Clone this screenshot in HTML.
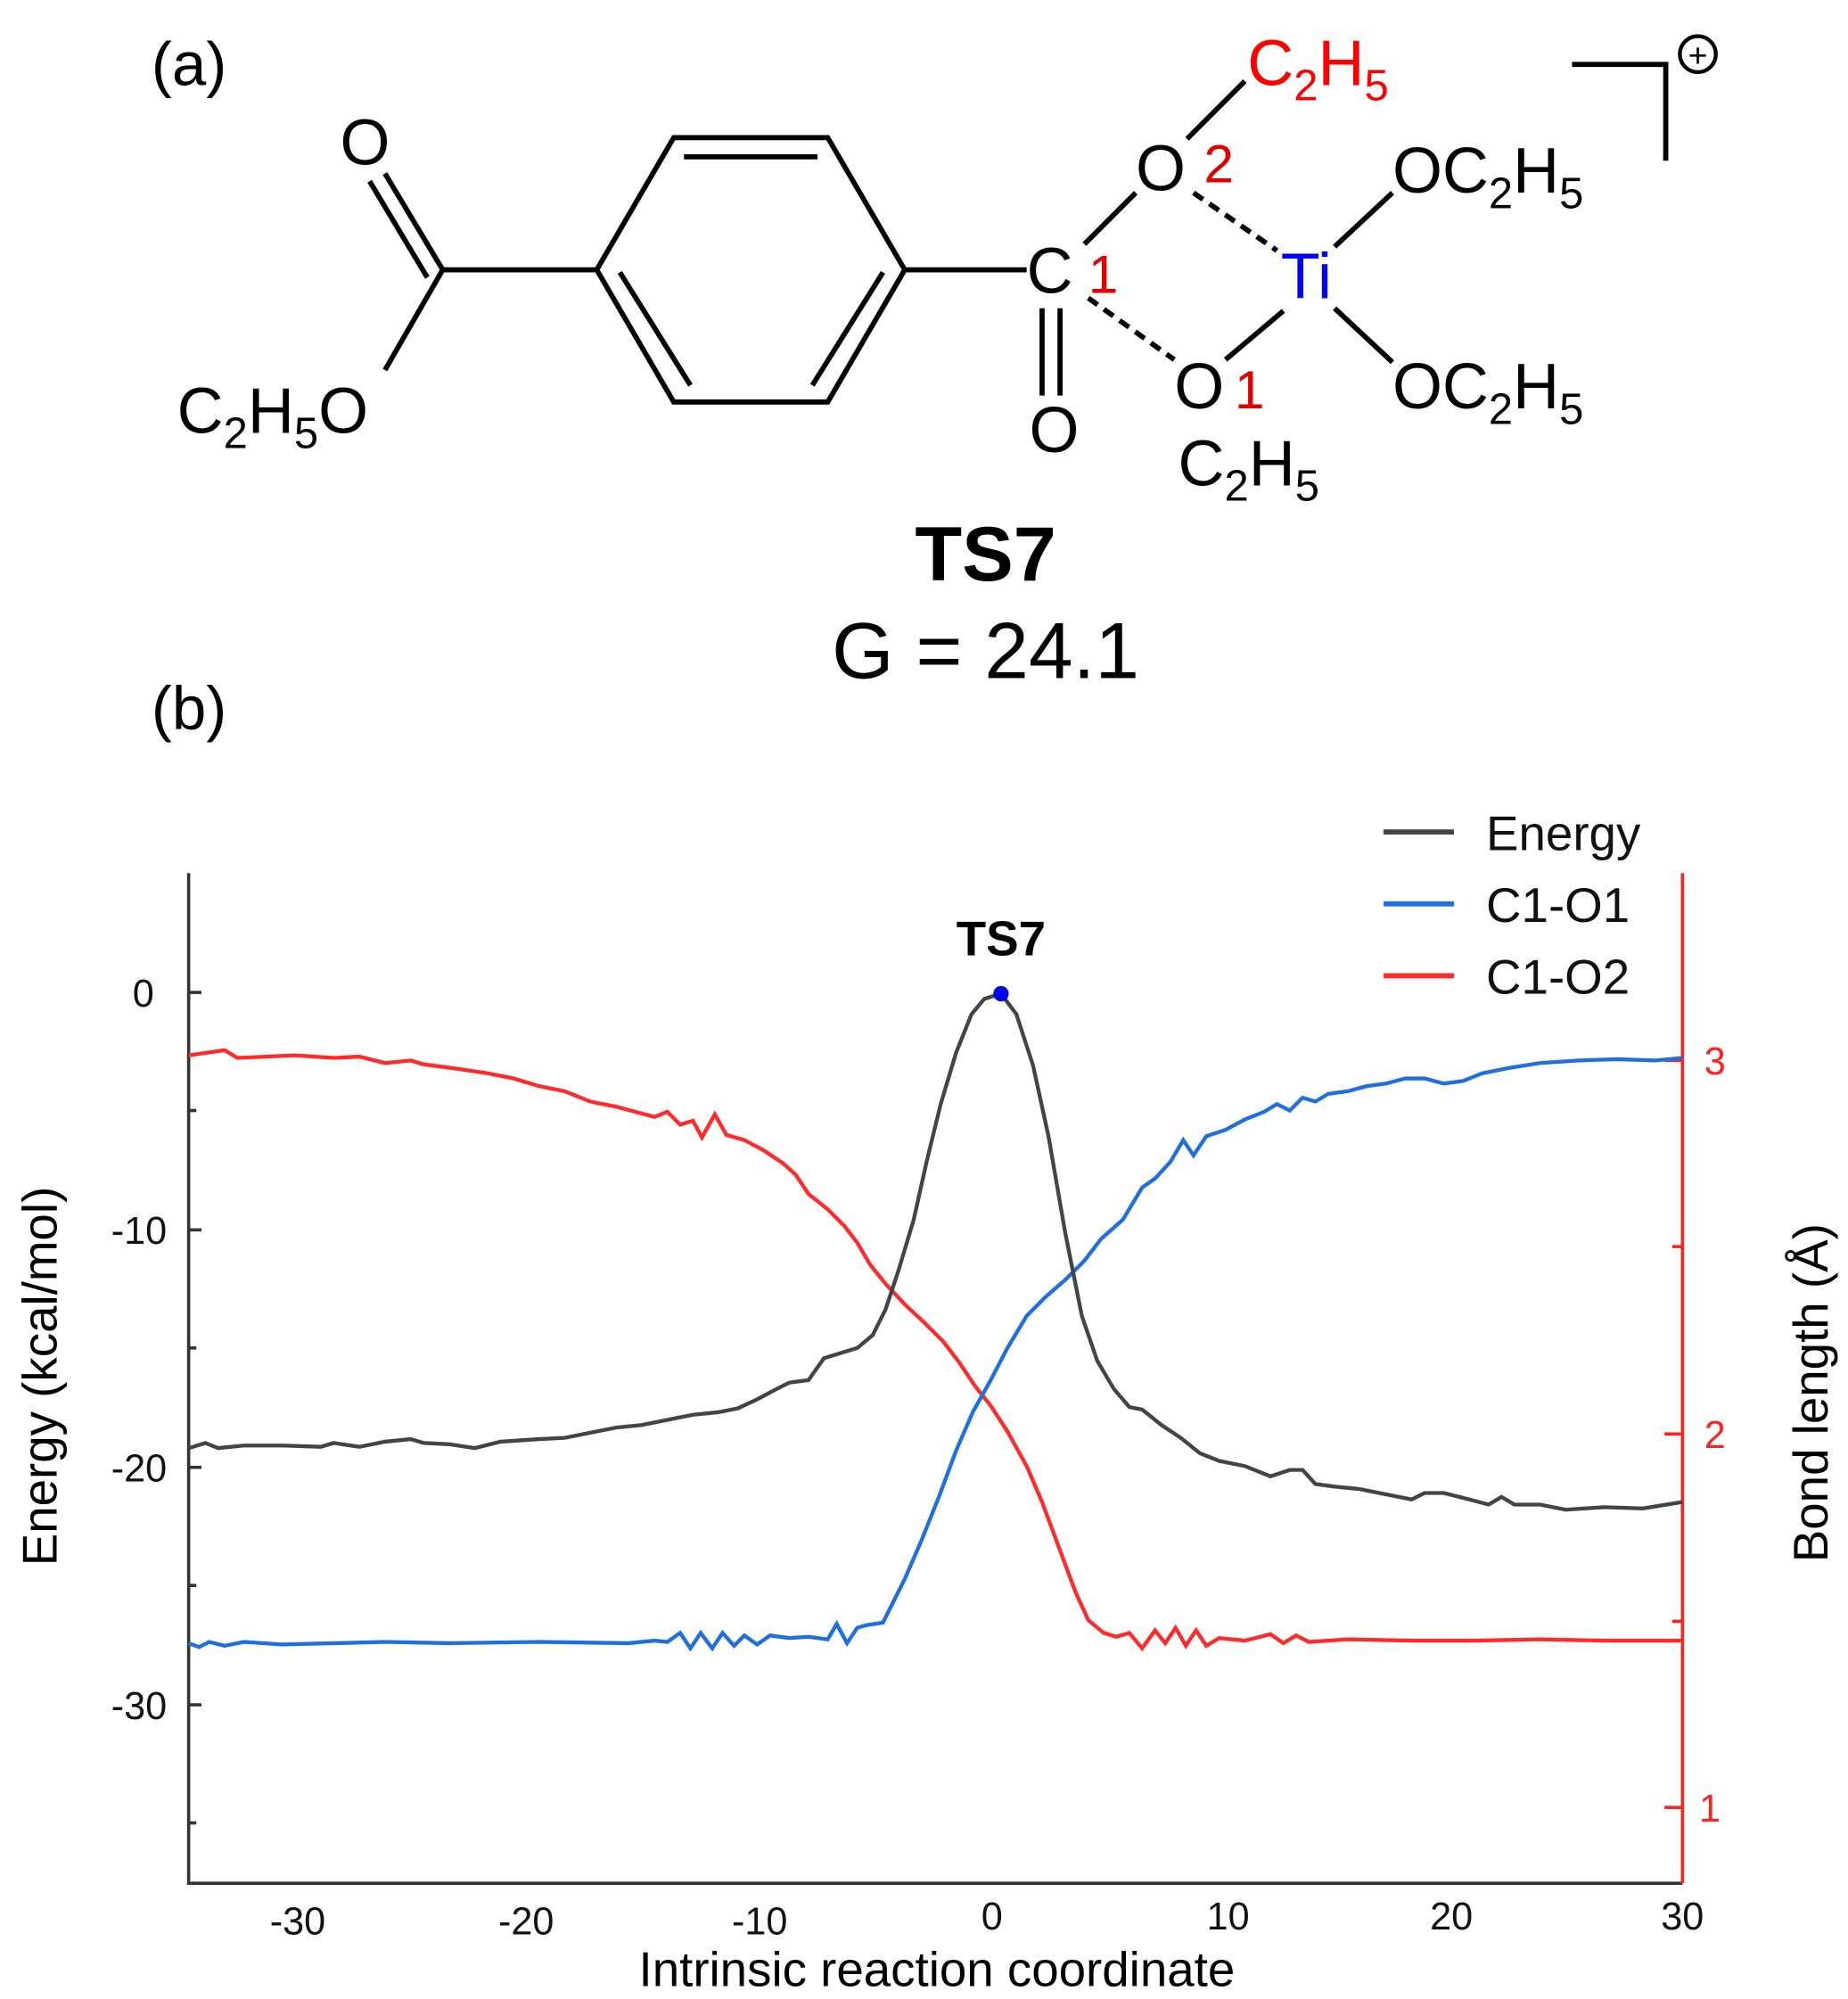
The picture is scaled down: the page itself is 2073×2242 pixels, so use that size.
<!DOCTYPE html>
<html><head><meta charset="utf-8"><style>
html,body{margin:0;padding:0;background:#fff;}
svg{display:block;}
text{font-family:"Liberation Sans",Arial,sans-serif;}
</style></head><body>
<svg width="2073" height="2242" viewBox="0 0 1440 1557" xmlns="http://www.w3.org/2000/svg">
<rect width="1440" height="1557" fill="#fff"/>
<!-- (a) structure -->
<text x="118" y="66" font-size="48">(a)</text>
<text x="118" y="568" font-size="48">(b)</text>
<g stroke="#000" stroke-width="4" fill="none" stroke-linecap="butt">
<polygon points="465,210 525,107 645,107 705,210 645,313 525,313"/>
<line x1="533" y1="122" x2="637" y2="122"/>
<line x1="483" y1="212" x2="538" y2="300"/>
<line x1="688" y1="212" x2="633" y2="300"/>
<line x1="345" y1="210" x2="465" y2="210"/>
<line x1="345" y1="210" x2="300" y2="135"/>
<line x1="333" y1="216" x2="288" y2="141"/>
<line x1="345" y1="210" x2="300" y2="288"/>
<line x1="705" y1="210" x2="800" y2="210"/>
<line x1="812" y1="240" x2="812" y2="308"/>
<line x1="826" y1="240" x2="826" y2="308"/>
<line x1="845" y1="190" x2="885" y2="150"/>
<line x1="925" y1="108" x2="970" y2="63"/>
<line x1="930" y1="150" x2="995" y2="195" stroke-dasharray="9,6"/>
<line x1="848" y1="232" x2="915" y2="280" stroke-dasharray="9,6"/>
<line x1="1040" y1="192" x2="1085" y2="150"/>
<line x1="1040" y1="240" x2="1085" y2="282"/>
<line x1="1000" y1="242" x2="955" y2="280"/>
<polyline points="1225,50 1298,50 1298,125"/>
</g>
<circle cx="1323" cy="42" r="14" fill="none" stroke="#000" stroke-width="3"/>
<text x="1323" y="52" font-size="26" text-anchor="middle">+</text>
<g font-size="50">
<text x="265" y="128">O</text>
<text x="138" y="337">C<tspan font-size="34" dy="12">2</tspan><tspan dy="-12">H</tspan><tspan font-size="34" dy="12">5</tspan><tspan dy="-12">O</tspan></text>
<text x="800" y="228">C</text><text x="848" y="228" fill="#e00000" font-size="42">1</text>
<text x="802" y="352">O</text>
<text x="885" y="148">O</text><text x="938" y="142" fill="#e00000" font-size="42">2</text>
<text x="972" y="66" fill="#ff0000">C<tspan font-size="34" dy="12">2</tspan><tspan dy="-12">H</tspan><tspan font-size="34" dy="12">5</tspan></text>
<text x="998" y="232" fill="#0000ff">Ti</text>
<text x="1085" y="150">OC<tspan font-size="34" dy="12">2</tspan><tspan dy="-12">H</tspan><tspan font-size="34" dy="12">5</tspan></text>
<text x="1085" y="318">OC<tspan font-size="34" dy="12">2</tspan><tspan dy="-12">H</tspan><tspan font-size="34" dy="12">5</tspan></text>
<text x="915" y="318">O</text><text x="962" y="318" fill="#e00000" font-size="42">1</text>
<text x="918" y="378">C<tspan font-size="34" dy="12">2</tspan><tspan dy="-12">H</tspan><tspan font-size="34" dy="12">5</tspan></text>
</g>
<text x="768" y="452" font-size="60" font-weight="bold" text-anchor="middle">TS7</text>
<text x="768" y="528" font-size="62" text-anchor="middle">G = 24.1</text>

<!-- plot -->
<g stroke="#333" stroke-width="2.5" fill="none">
<polyline points="147,680 147,1467 1311,1467"/>
<line x1="147" y1="773" x2="157" y2="773"/><line x1="147" y1="958" x2="157" y2="958"/>
<line x1="147" y1="1143" x2="157" y2="1143"/><line x1="147" y1="1328" x2="157" y2="1328"/>
<line x1="147" y1="865" x2="153" y2="865"/><line x1="147" y1="1050" x2="153" y2="1050"/>
<line x1="147" y1="1235" x2="153" y2="1235"/><line x1="147" y1="1420" x2="153" y2="1420"/>
</g>
<g stroke="#ff2020" stroke-width="2.5">
<line x1="1311" y1="680" x2="1311" y2="1467"/>
<line x1="1297" y1="826" x2="1311" y2="826"/><line x1="1297" y1="1117" x2="1311" y2="1117"/><line x1="1297" y1="1408" x2="1311" y2="1408"/>
<line x1="1303" y1="971" x2="1311" y2="971"/><line x1="1303" y1="1263" x2="1311" y2="1263"/>
</g>
<g font-size="30" text-anchor="end" fill="#111">
<text x="120" y="784">0</text><text x="130" y="969">-10</text><text x="130" y="1154">-20</text><text x="130" y="1339">-30</text>
</g>
<g font-size="30" fill="#ff2020">
<text x="1328" y="837">3</text><text x="1328" y="1128">2</text><text x="1324" y="1419">1</text>
</g>
<g font-size="30" text-anchor="middle" fill="#111">
<text x="232" y="1507">-30</text><text x="410" y="1507">-20</text><text x="592" y="1507">-10</text>
<text x="773" y="1503">0</text><text x="957" y="1503">10</text><text x="1131" y="1503">20</text><text x="1311" y="1503">30</text>
</g>
<text x="730" y="1547" font-size="38" text-anchor="middle">Intrinsic reaction coordinate</text>
<text transform="translate(44,1072) rotate(-90)" font-size="38" text-anchor="middle">Energy (kcal/mol)</text>
<text transform="translate(1424,1085) rotate(-90)" font-size="38" text-anchor="middle">Bond length (Å)</text>

<!-- series -->
<polyline fill="none" stroke="#ff2a2a" stroke-width="3" points="147,822 175,818 185,824 230,822 260,824 280,823 300,828 320,826 330,829 360,833 380,836 400,840 420,846 440,850 460,858 480,862 495,866 510,870 520,866 530,876 540,873 547,886 557,868 566,884 580,888 595,896 610,906 620,915 630,930 645,942 658,955 668,968 678,985 690,1000 705,1016 720,1030 735,1045 748,1062 760,1080 772,1095 785,1115 800,1142 812,1170 825,1205 838,1240 848,1262 860,1272 870,1275 880,1272 890,1284 900,1270 908,1280 916,1268 924,1282 932,1270 940,1282 950,1276 970,1278 990,1273 1000,1280 1010,1274 1020,1279 1050,1277 1100,1278 1150,1278 1200,1277 1250,1278 1311,1278"/>
<polyline fill="none" stroke="#1f6fe0" stroke-width="3" points="147,1280 155,1283 163,1279 175,1282 190,1279 220,1281 260,1280 300,1279 350,1280 420,1279 490,1280 510,1278 520,1279 530,1272 538,1284 546,1272 555,1284 563,1272 572,1282 580,1274 590,1281 600,1274 615,1276 630,1275 645,1277 652,1265 660,1280 668,1268 675,1266 688,1264 695,1250 705,1230 718,1200 732,1165 745,1130 758,1100 772,1075 785,1050 800,1025 815,1010 830,997 845,982 858,965 875,950 890,925 900,918 912,905 922,888 930,900 940,885 955,880 970,872 985,866 995,860 1005,865 1015,855 1025,858 1035,852 1050,850 1065,846 1080,844 1095,840 1110,840 1125,844 1140,842 1155,836 1175,832 1200,828 1230,826 1260,825 1290,826 1311,824"/>
<polyline fill="none" stroke="#444" stroke-width="3" points="147,1128 160,1124 170,1128 190,1126 220,1126 250,1127 260,1124 280,1127 300,1123 320,1121 330,1124 350,1125 370,1128 390,1123 420,1121 440,1120 460,1116 480,1112 500,1110 520,1106 540,1102 560,1100 575,1097 590,1090 605,1082 615,1077 630,1075 642,1058 655,1054 668,1050 680,1040 690,1020 700,990 712,950 722,905 733,860 745,820 757,790 767,778 780,774 792,790 805,830 817,885 830,960 843,1025 855,1060 868,1082 880,1096 890,1098 905,1110 920,1120 935,1132 950,1138 970,1142 990,1150 1005,1145 1015,1145 1025,1156 1040,1158 1060,1160 1080,1164 1100,1168 1110,1163 1125,1163 1145,1168 1160,1172 1170,1166 1180,1172 1200,1172 1220,1176 1250,1174 1280,1175 1311,1170"/>
<circle cx="780" cy="774" r="6" fill="#0000ee"/>
<text x="780" y="744" font-size="38" font-weight="bold" text-anchor="middle">TS7</text>

<!-- legend -->
<g stroke-width="4">
<line x1="1078" y1="648" x2="1133" y2="648" stroke="#444"/>
<line x1="1078" y1="704" x2="1133" y2="704" stroke="#1f6fe0"/>
<line x1="1078" y1="760" x2="1133" y2="760" stroke="#ff2a2a"/>
</g>
<g font-size="38" fill="#111">
<text x="1158" y="662">Energy</text><text x="1158" y="718">C1-O1</text><text x="1158" y="774">C1-O2</text>
</g>
</svg>
</body></html>
